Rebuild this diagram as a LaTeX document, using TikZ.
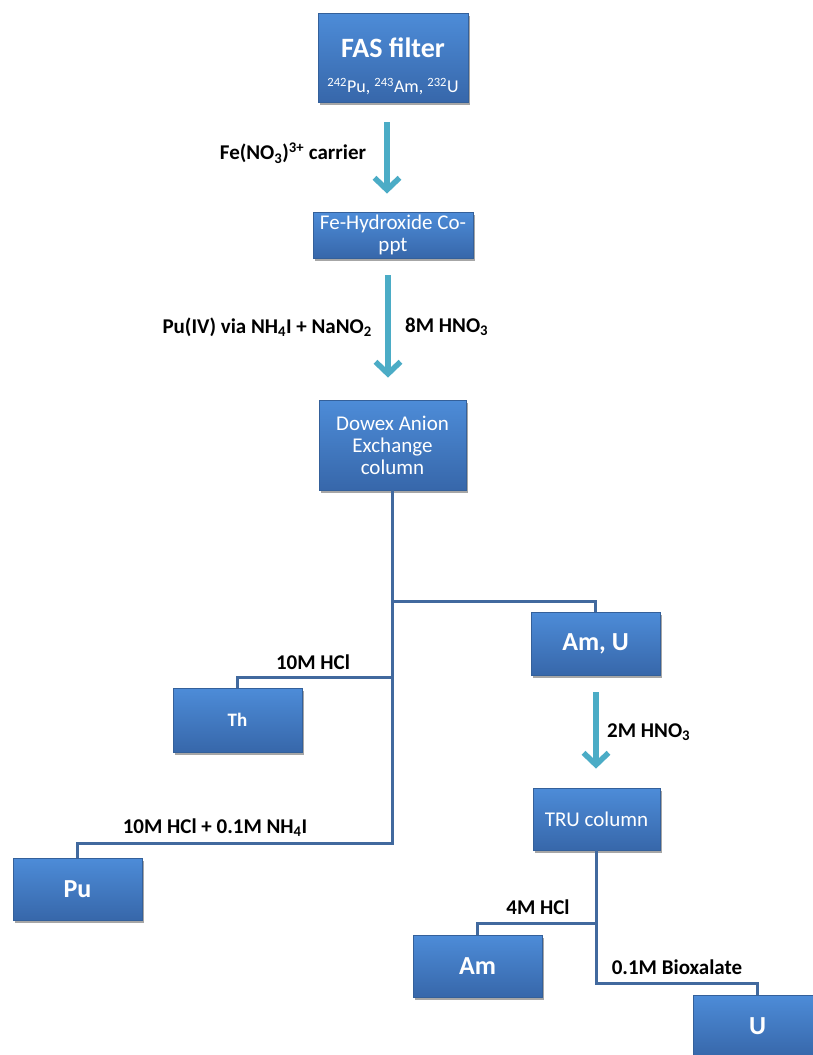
\documentclass[tikz,border=0pt]{standalone}
\usepackage{fontspec}
\setmainfont{Carlito}
\usetikzlibrary{arrows.meta,calc,shadows}
\definecolor{boxtop}{HTML}{4D8CD8}
\definecolor{boxbot}{HTML}{3767AA}
\definecolor{boxline}{HTML}{34609A}
\definecolor{flowc}{HTML}{4BACC6}
\definecolor{connc}{HTML}{41699E}
\begin{document}
\begin{tikzpicture}[x=1pt,y=-1pt,
  box/.style={draw=boxline, line width=0.8pt, top color=boxtop, bottom color=boxbot,
    text=white, align=center, inner sep=2pt,
    drop shadow={shadow xshift=1.5pt, shadow yshift=-2.5pt, opacity=0.35, fill=black}},
  intxt/.style={text=white, inner sep=0pt, align=center},
  regtxt/.style={font=\fontsize{21}{22}\selectfont},
  boldtxt/.style={font=\fontsize{26}{28}\selectfont\bfseries},
  flowarrow/.style={draw=flowc, line width=5.5pt, -{Straight Barb[length=12pt,width=25pt]}},
  conn/.style={draw=connc, line width=3.5pt},
  lab/.style={font=\fontsize{21}{24}\selectfont\bfseries, text=black, inner sep=0pt}]
\useasboundingbox (0,0) rectangle (813,1055);
\fill[white] (0,0) rectangle (813,1055);
\clip (0,0) rectangle (813,1055);

% boxes
\node[box, minimum width=150, minimum height=89] (fas) at (393,57.5) {};
\node[intxt, font=\fontsize{28}{30}\selectfont\bfseries] (fastitle) at ($(fas.center)+(0,-10)$) {FAS filter};
\node[intxt, font=\fontsize{18}{20}\selectfont] (fasiso) at ($(fas.center)+(0,29)$)
  {\textsuperscript{242}Pu, \textsuperscript{243}Am, \textsuperscript{232}U};
\node[box, regtxt, minimum width=160, minimum height=46] (feh) at (393,235)
  {Fe-Hydroxide Co-\\ppt};
\node[box, regtxt, minimum width=147, minimum height=90] (dowex) at (392.5,445)
  {Dowex Anion\\Exchange\\column};
\node[box, boldtxt, minimum width=129, minimum height=63] (amu) at (595.5,643.5) {Am, U};
\node[box, font=\fontsize{19}{20}\selectfont\bfseries, minimum width=129, minimum height=64] (th) at (237.5,720) {Th};
\node[box, boldtxt, minimum width=129, minimum height=62] (pu) at (77.5,889) {Pu};
\node[box, regtxt, minimum width=127, minimum height=62] (tru) at (596.5,819) {TRU column};
\node[box, boldtxt, minimum width=129, minimum height=62] (am) at (477.5,966) {Am};
\node[box, boldtxt, minimum width=129, minimum height=62] (u) at (757.5,1026) {U};

% flow arrows
\draw[flowarrow] ($(fas.south)+(-6,20)$) coordinate (a1s) -- ($(feh.north)+(-6,-18)$) coordinate (a1e);
\draw[flowarrow] ($(feh.south)+(-5,17)$) coordinate (a2s) -- ($(dowex.north)+(-4.5,-22)$) coordinate (a2e);
\draw[flowarrow] ($(amu.south)+(0.5,17)$) coordinate (a3s) -- ($(tru.north)+(-0.5,-19)$) coordinate (a3e);

% connectors
\draw[conn] (dowex.south) -- ++(0,353) -| (pu.north);
\draw[conn] ($(dowex.south)+(0,111)$) -| (amu.north);
\draw[conn] ($(dowex.south)+(0,187)$) -| (th.north);
\draw[conn] (tru.south) -- ++(0,133) -| (u.north);
\draw[conn] ($(tru.south)+(0,73)$) -| (am.north);

% labels
\node[lab] (l1) at (293,153) {Fe(NO\textsubscript{3})\textsuperscript{3+} carrier};
\node[lab, anchor=east] (l2) at (372,327) {Pu(IV) via NH\textsubscript{4}I + NaNO\textsubscript{2}};
\node[lab, anchor=west] (l3) at (405,327) {8M HNO\textsubscript{3}};
\node[lab] (l4) at (313,662) {10M HCl};
\node[lab] (l5) at (215,828) {10M HCl + 0.1M NH\textsubscript{4}I};
\node[lab, anchor=west] (l6) at (607,732) {2M HNO\textsubscript{3}};
\node[lab] (l7) at (538,907) {4M HCl};
\node[lab] (l8) at (677,967) {0.1M Bioxalate};
\end{tikzpicture}
\end{document}
